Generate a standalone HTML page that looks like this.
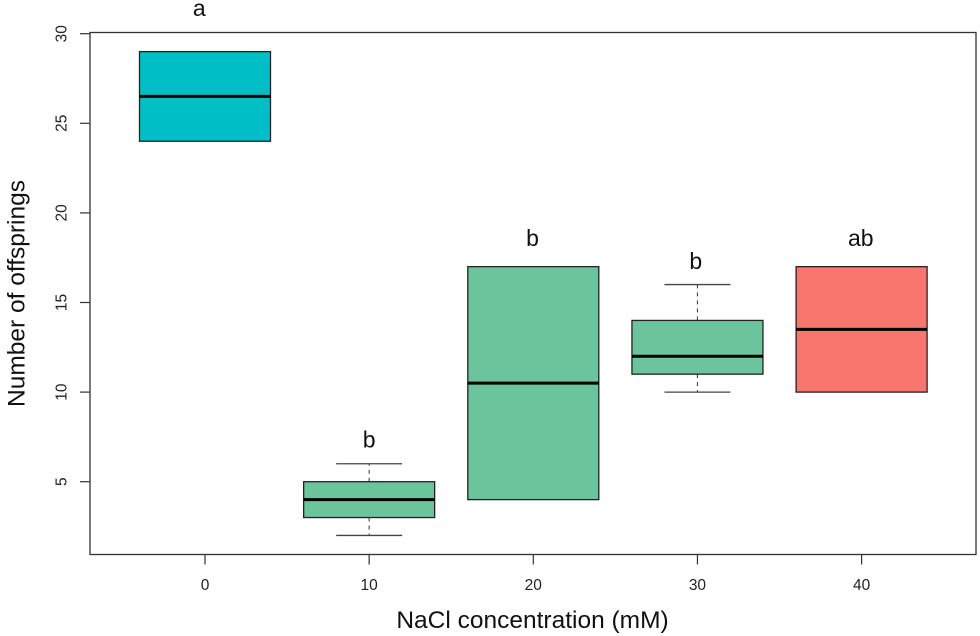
<!DOCTYPE html>
<html>
<head>
<meta charset="utf-8">
<title>Number of offsprings by NaCl concentration</title>
<style>
html,body{margin:0;padding:0;background:#fff;}
svg{display:block;font-family:"Liberation Sans",sans-serif;}
</style>
</head>
<body>
<svg id="chart" width="980" height="636" viewBox="0 0 980 636" xmlns="http://www.w3.org/2000/svg">
  <rect x="90" y="32.5" width="886" height="522" fill="none" stroke="#333" stroke-width="1.3"></rect>
  <g id="marks"></g>
  <g id="axes"></g>
  <text x="532.5" y="628" font-size="24.5" text-anchor="middle" fill="#111">NaCl concentration (mM)</text>
  <text transform="translate(24.5,293.5) rotate(-90)" font-size="24.5" text-anchor="middle" fill="#111">Number of offsprings</text>
</svg>
<script>
const categories = [0, 10, 20, 30, 40];
const whiskerLow = [24, 2, 4, 10, 10];
const q1Values = [24, 3, 4, 11, 10];
const medians = [26.5, 4, 10.5, 12, 13.5];
const q3Values = [29, 5, 17, 14, 17];
const whiskerHigh = [29, 6, 17, 16, 17];
const boxColors = ['#00bec6', '#6cc49c', '#6cc49c', '#6cc49c', '#f8766d'];
const groupLabels = ['a', 'b', 'b', 'b', 'ab'];
const labelXValues = [-0.35, 10, 19.95, 29.9, 39.95];
const labelYValues = [31, 6.9, 18.15, 16.87, 18.15];
const xTicks = [0, 10, 20, 30, 40];
const yTicks = [5, 10, 15, 20, 25, 30];

const NS = 'http://www.w3.org/2000/svg';
const marks = document.getElementById('marks');
const axes = document.getElementById('axes');
function xScale(v) { return 205 + v * 16.415; }
function yScale(v) { return 571.3 - v * 17.92; }
function make(parent, tag, attrs) {
  const el = document.createElementNS(NS, tag);
  for (const k in attrs) el.setAttribute(k, attrs[k]);
  parent.appendChild(el);
  return el;
}
const BOX_HALF = 65.5;
const CAP_HALF = 33;

categories.forEach(function (c, i) {
  const cx = xScale(c);
  const g = make(marks, 'g', {});
  
  

  if (whiskerHigh[i] > q3Values[i]) {
    const w = make(g, 'line', {x1: cx, x2: cx, y1: yScale(q3Values[i]), y2: yScale(whiskerHigh[i]), stroke: '#444', 'stroke-width': 1.1, 'stroke-dasharray': '4 4'});
    
    
    const cap = make(g, 'line', {x1: cx - CAP_HALF, x2: cx + CAP_HALF, y1: yScale(whiskerHigh[i]), y2: yScale(whiskerHigh[i]), stroke: '#444', 'stroke-width': 1.3});
    
    
  }
  if (whiskerLow[i] < q1Values[i]) {
    const w = make(g, 'line', {x1: cx, x2: cx, y1: yScale(q1Values[i]), y2: yScale(whiskerLow[i]), stroke: '#444', 'stroke-width': 1.1, 'stroke-dasharray': '4 4'});
    
    
    const cap = make(g, 'line', {x1: cx - CAP_HALF, x2: cx + CAP_HALF, y1: yScale(whiskerLow[i]), y2: yScale(whiskerLow[i]), stroke: '#444', 'stroke-width': 1.3});
    
    
  }

  const box = make(g, 'rect', {x: cx - BOX_HALF, y: yScale(q3Values[i]), width: BOX_HALF * 2, height: yScale(q1Values[i]) - yScale(q3Values[i]), fill: boxColors[i], stroke: '#222', 'stroke-width': 1.3});
  
  

  const med = make(g, 'line', {x1: cx - BOX_HALF, x2: cx + BOX_HALF, y1: yScale(medians[i]), y2: yScale(medians[i]), stroke: '#000', 'stroke-width': 3});
  
  

  const label = make(g, 'text', {x: xScale(labelXValues[i]), y: yScale(labelYValues[i]), 'font-size': 23, 'text-anchor': 'middle', fill: '#111'});
  
  
  label.textContent = groupLabels[i];
});

xTicks.forEach(function (t) {
  const x = xScale(t);
  const tick = make(axes, 'line', {x1: x, x2: x, y1: 554.5, y2: 564.5, stroke: '#333', 'stroke-width': 1.2});
  
  
  const lab = make(axes, 'text', {x: x, y: 590, 'font-size': 15.5, 'text-anchor': 'middle', fill: '#222'});
  
  
  lab.textContent = t;
});

yTicks.forEach(function (t) {
  const y = yScale(t);
  const tick = make(axes, 'line', {x1: 80, x2: 90, y1: y, y2: y, stroke: '#333', 'stroke-width': 1.2});
  
  
  const lab = make(axes, 'text', {transform: 'translate(66.5,' + y + ') rotate(-90)', 'font-size': 15.5, 'text-anchor': 'middle', fill: '#222'});
  
  
  lab.textContent = t;
});
</script>
</body>
</html>
